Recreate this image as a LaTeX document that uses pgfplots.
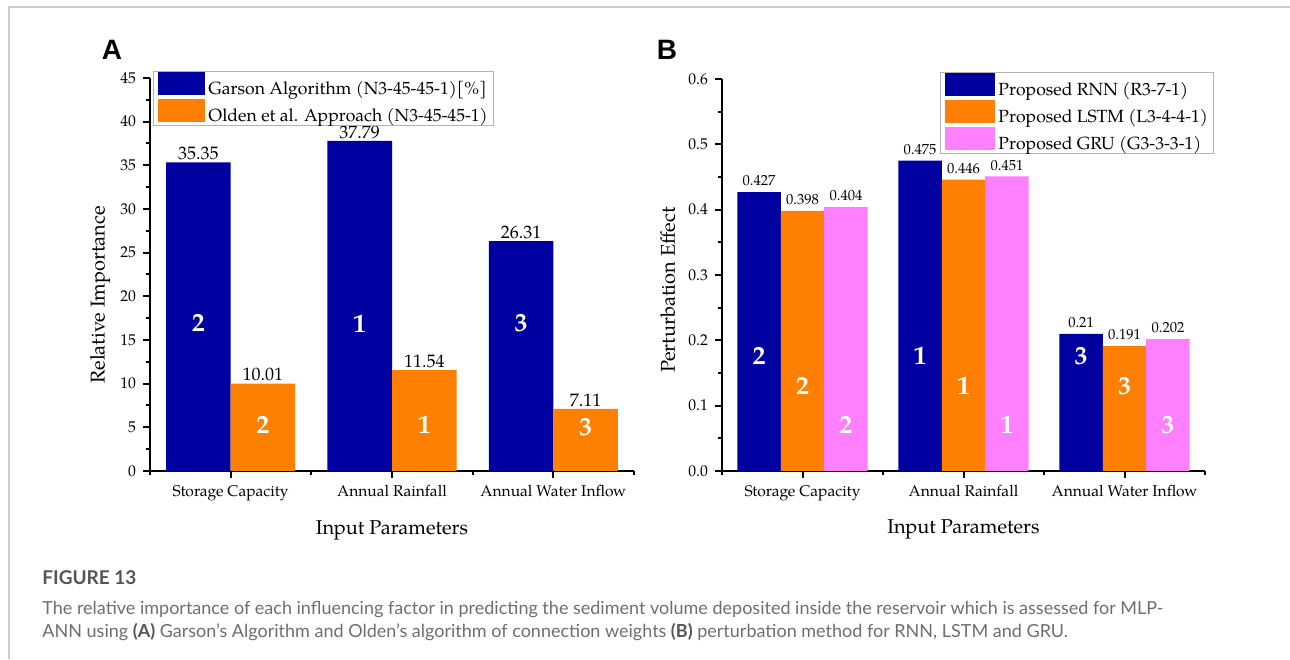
\documentclass[border=0pt]{standalone}
\usepackage{fontspec}
\setmainfont{texgyrepagella-regular.otf}[BoldFont=texgyrepagella-bold.otf]
\newfontfamily\capfont{Lato}
\newfontfamily\panelfont{Liberation Sans}
\usepackage{pgfplots}
\pgfplotsset{compat=1.18}
\definecolor{navy}{RGB}{0,0,160}
\definecolor{orng}{RGB}{255,128,0}
\definecolor{pnk}{RGB}{255,128,255}
\definecolor{capgray}{RGB}{110,110,110}
\definecolor{figgray}{RGB}{85,85,85}

\pgfplotsset{
  mybar/.style={
    scale only axis,
    ybar,
    xmin=-0.5, xmax=2.5, ymin=0,
    axis x line*=bottom, axis y line*=left,
    axis line style={-, line width=1pt},
    xtick={0,1,2},
    xticklabels={Storage Capacity, Annual Rainfall, Annual Water Inflow},
    minor xtick={-0.5,0.5,1.5,2.5},
    minor y tick num=1,
    tick align=outside,
    major tick length=3.5pt, minor tick length=2pt,
    every tick/.style={black, line width=1pt},
    tick label style={font=\fontsize{7.8}{9}\selectfont},
    /pgf/number format/assume math mode=true,
    xlabel={Input Parameters},
    label style={font=\fontsize{10}{12}\selectfont},
    legend cell align=left,
    nodes near coords={\pgfplotspointmeta},
    point meta=explicit symbolic,
  },
  patch/.style={legend image code/.code={\fill[##1] (0pt,-2.75pt) rectangle (#1,8.75pt);}},
  mylegend/.style={draw=gray!60, line width=0.5pt,
    font=\fontsize{8.8}{10}\selectfont, nodes={inner sep=0.3pt},
    row sep=0.4pt, column sep=1.2pt, inner xsep=2.5pt, inner ysep=0.3pt},
}

\begin{document}
\begin{tikzpicture}
\path[use as bounding box] (0,0) rectangle (645pt,329.5pt);
\draw[gray!40, line width=0.8pt] (4.5pt,0) -- (4.5pt,326pt) -- (645pt,326pt);

% Panel A
\begin{axis}[mybar,
  at={(75pt,94pt)}, anchor=south west,
  width=242pt, height=196.5pt,
  ymax=45, ytick={0,5,...,45},
  bar width=0.4,
  ylabel={Relative Importance},
  x label style={at={(axis description cs:0.5,-0.150)}, anchor=center},
  y label style={at={(axis description cs:-0.103,0.448)}, anchor=center},
  every node near coord/.append style={font=\fontsize{9}{10}\selectfont, black, inner sep=1pt},
  legend style={mylegend, at={(0.0062,1.0178)}, anchor=north west},
]
\addplot[fill=navy, draw=none, bar shift=-0.2, patch=23.5pt]
  coordinates {(0,35.35) [35.35] (1,37.79) [37.79] (2,26.31) [26.31]};
\addlegendentry{Garson Algorithm (N3-45-45-1)[\%]}
\addplot[fill=orng, draw=none, bar shift=0.2, patch=23.5pt]
  coordinates {(0,10.01) [10.01] (1,11.54) [11.54] (2,7.11) [7.11]};
\addlegendentry{Olden et al. Approach (N3-45-45-1)}
\begin{scope}[every node/.style={font=\bfseries\fontsize{13}{13}\selectfont, text=white}]
\node at (axis cs:-0.2,16.9) {2};
\node at (axis cs:0.8,16.9) {1};
\node at (axis cs:1.8,16.9) {3};
\node at (axis cs:0.2,5.3) {2};
\node at (axis cs:1.2,5.3) {1};
\node at (axis cs:2.2,5.0) {3};
\end{scope}
\end{axis}

% Panel B
\begin{axis}[mybar,
  at={(361pt,94pt)}, anchor=south west,
  width=241.5pt, height=196pt,
  ymax=0.6, ytick={0,0.1,0.2,0.3,0.4,0.5,0.6},
  yticklabel style={/pgf/number format/.cd, fixed, fixed zerofill, precision=1},
  bar width=0.27,
  ylabel={Perturbation Effect},
  x label style={at={(axis description cs:0.5,-0.150)}, anchor=center},
  y label style={at={(axis description cs:-0.112,0.462)}, anchor=center},
  every node near coord/.append style={font=\fontsize{7.3}{9}\selectfont, black, inner sep=2.8pt},
  legend style={mylegend, at={(0.4513,1.0179)}, anchor=north west},
]
\addplot[fill=navy, draw=none, bar shift=-0.27, patch=25pt]
  coordinates {(0,0.427) [0.427] (1,0.475) [0.475] (2,0.21) [0.21]};
\addlegendentry{Proposed RNN (R3-7-1)}
\addplot[fill=orng, draw=none, bar shift=0, patch=25pt]
  coordinates {(0,0.398) [0.398] (1,0.446) [0.446] (2,0.191) [0.191]};
\addlegendentry{Proposed LSTM (L3-4-4-1)}
\addplot[fill=pnk, draw=none, bar shift=0.27, patch=25pt]
  coordinates {(0,0.404) [0.404] (1,0.451) [0.451] (2,0.202) [0.202]};
\addlegendentry{Proposed GRU (G3-3-3-1)}
\begin{scope}[every node/.style={font=\bfseries\fontsize{13}{13}\selectfont, text=white}]
\node at (axis cs:-0.27,0.176) {2};
\node at (axis cs:0.73,0.176) {1};
\node at (axis cs:1.73,0.176) {3};
\node at (axis cs:0,0.130) {2};
\node at (axis cs:1,0.130) {1};
\node at (axis cs:2,0.130) {3};
\node at (axis cs:0.27,0.070) {2};
\node at (axis cs:1.27,0.070) {1};
\node at (axis cs:2.27,0.070) {3};
\end{scope}
\end{axis}

% Panel letters
\node[font=\panelfont\bfseries\fontsize{14}{14}\selectfont] at (56pt,304.5pt) {A};
\node[font=\panelfont\bfseries\fontsize{14}{14}\selectfont] at (333.5pt,304.5pt) {B};

% Caption
\node[anchor=base west, inner sep=0, font=\capfont\bfseries\fontsize{9.5}{11}\selectfont, text=figgray]
  at (21pt,37.5pt) {FIGURE 13};
\node[anchor=base west, inner sep=0, font=\capfont\fontsize{9}{11}\selectfont, text=capgray]
  at (21pt,22.5pt) {The relative importance of each influencing factor in predicting the sediment volume deposited inside the reservoir which is assessed for MLP-};
\node[anchor=base west, inner sep=0, font=\capfont\fontsize{9}{11}\selectfont, text=capgray]
  at (21pt,11pt) {ANN using {\bfseries\color{figgray}(A)} Garson’s Algorithm and Olden’s algorithm of connection weights {\bfseries\color{figgray}(B)} perturbation method for RNN, LSTM and GRU.};
\end{tikzpicture}
\end{document}
